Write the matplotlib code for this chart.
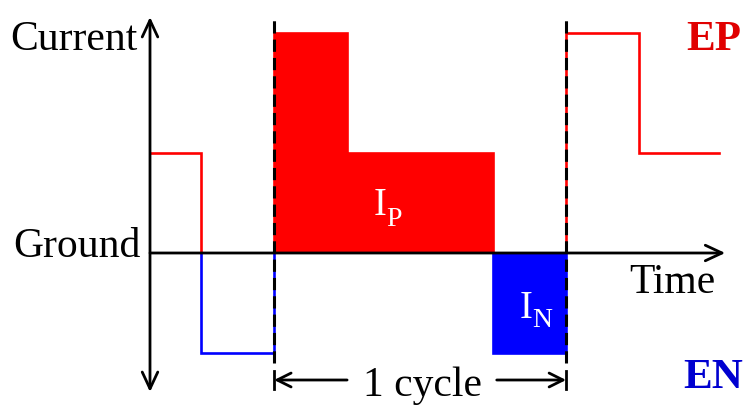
import numpy as np
import matplotlib
matplotlib.use("Agg")
import matplotlib.pyplot as plt
from matplotlib.patches import Rectangle

# ---- data (time in arbitrary units, current in arbitrary units) ----
seg_start = [0.0, 0.7, 1.7, 2.7, 4.7, 5.7, 6.7]
seg_end = [0.7, 1.7, 2.7, 4.7, 5.7, 6.7, 7.8]
seg_level = [1.0, -1.0, 2.2, 1.0, -1.0, 2.2, 1.0]
seg_filled = [False, False, True, True, True, False, False]
cycle_bounds = [1.7, 5.7]
y_axis_labels = ["Current", "Ground"]
x_axis_label = "Time"
polarity_labels = ["EP", "EN"]
area_labels = [("I", "P"), ("I", "N")]
cycle_label = "1 cycle"

RED = "#FF0000"
BLUE = "#0000FF"
SERIF = ["Liberation Serif", "DejaVu Serif"]
FS = 30

fig = plt.figure(figsize=(7.5, 4.09), dpi=100)
ax = fig.add_axes([0, 0, 1, 1])
ax.set_xlim(-150 / 73, 600 / 73)
ax.set_ylim(-1.56, 2.53)
ax.axis("off")

# ---- filled areas (one cycle) ----
for s, e, lv, f in zip(seg_start, seg_end, seg_level, seg_filled):
    if f:
        ax.fill_between([s, e], [0, 0], [lv, lv], color=RED if lv > 0 else BLUE,
                        lw=0, zorder=2)

# ---- waveform outline (red above ground, blue below) ----
xs, ys = [], []
for s, e, lv in zip(seg_start, seg_end, seg_level):
    xs += [s, e]
    ys += [lv, lv]
for col, rect in [(RED, Rectangle((-5, 0), 20, 10, transform=ax.transData)),
                  (BLUE, Rectangle((-5, -10), 20, 10, transform=ax.transData))]:
    ln, = ax.plot(xs, ys, color=col, lw=1.9, zorder=3, solid_joinstyle="miter")
    ln.set_clip_path(rect)

# ---- axes arrows ----
ax.annotate("", xy=(0, 2.36), xytext=(0, -1.39),
            arrowprops=dict(arrowstyle="<->,head_length=0.6,head_width=0.28",
                            lw=2.0, color="black", shrinkA=0, shrinkB=0,
                            mutation_scale=20), zorder=4)
ax.annotate("", xy=(7.88, 0), xytext=(0, 0),
            arrowprops=dict(arrowstyle="->,head_length=0.6,head_width=0.28",
                            lw=2.0, color="black", shrinkA=0, shrinkB=0,
                            mutation_scale=20), zorder=4)

# ---- cycle boundaries (dashed) ----
for cb in cycle_bounds:
    ax.plot([cb, cb], [-1.10, 2.38], color="black", lw=2.2, dashes=(4.0, 2.0),
            zorder=5)

# ---- 1 cycle annotation ----
y_c = -1.27
ax.annotate("", xy=(cycle_bounds[0], y_c), xytext=(2.70, y_c),
            arrowprops=dict(arrowstyle="->,head_length=0.5,head_width=0.25",
                            lw=2.0, color="black", shrinkA=0, shrinkB=0,
                            mutation_scale=20))
ax.annotate("", xy=(cycle_bounds[1], y_c), xytext=(4.75, y_c),
            arrowprops=dict(arrowstyle="->,head_length=0.5,head_width=0.25",
                            lw=2.0, color="black", shrinkA=0, shrinkB=0,
                            mutation_scale=20))
for cb in cycle_bounds:
    ax.plot([cb, cb], [y_c - 0.09, y_c + 0.09], color="black", lw=2.0)
ax.text((cycle_bounds[0] + cycle_bounds[1]) / 2 + 0.03, -1.43, cycle_label,
        family=SERIF, fontsize=FS, ha="center", va="baseline")

# ---- labels ----
ax.text(-0.17, 2.03, y_axis_labels[0], family=SERIF, fontsize=FS,
        ha="right", va="baseline")
ax.text(-0.13, -0.04, y_axis_labels[1], family=SERIF, fontsize=FS,
        ha="right", va="baseline")
ax.text(6.56, -0.40, x_axis_label, family=SERIF, fontsize=FS,
        ha="left", va="baseline")
ax.text(7.35, 2.03, polarity_labels[0], family=SERIF, fontsize=FS + 1,
        fontweight="bold", color="#E00000", ha="left", va="baseline")
ax.text(7.31, -1.35, polarity_labels[1], family=SERIF, fontsize=FS + 1,
        fontweight="bold", color="#0000D0", ha="left", va="baseline")

# area labels
ax.text(3.06, 0.38, area_labels[0][0], family=SERIF, fontsize=28,
        color="white", ha="left", va="baseline", zorder=6)
ax.text(3.24, 0.27, area_labels[0][1], family=SERIF, fontsize=20,
        color="white", ha="left", va="baseline", zorder=6)
ax.text(5.06, -0.65, area_labels[1][0], family=SERIF, fontsize=28,
        color="white", ha="left", va="baseline", zorder=6)
ax.text(5.23, -0.74, area_labels[1][1], family=SERIF, fontsize=20,
        color="white", ha="left", va="baseline", zorder=6)

fig.savefig("out.png", dpi=100)
